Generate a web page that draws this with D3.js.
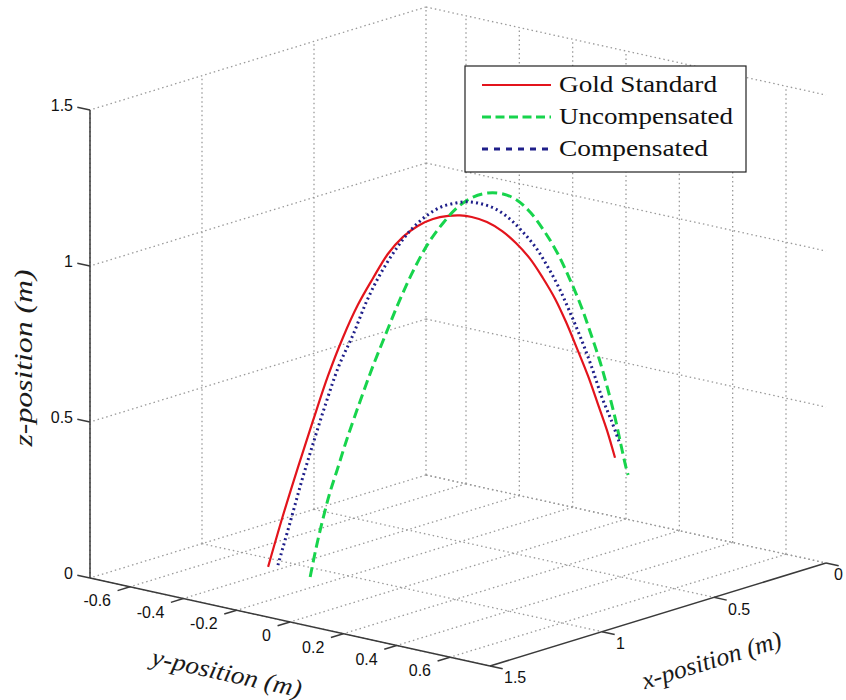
<!DOCTYPE html>
<html>
<head>
<meta charset="utf-8">
<script src="https://cdn.jsdelivr.net/npm/d3@7"></script>
<style>
  body { margin: 0; background: #fff; }
</style>
</head>
<body>
<div class="chart"></div>
<script>
var xTicks = [0, 0.5, 1, 1.5],
    yTicks = [-0.6, -0.4, -0.2, 0, 0.2, 0.4, 0.6],
    zTicks = [0, 0.5, 1, 1.5];
var xLim = [0, 1.5], yLim = [-0.75, 0.75], zLim = [0, 1.5];

var seriesNames = ["Gold Standard", "Uncompensated", "Compensated"];

// gold standard trajectory
var goldX = [1.137, 1.107, 1.076, 1.045, 1.015, 0.984, 0.954, 0.923, 0.893, 0.862, 0.832, 0.801, 0.770, 0.746, 0.722, 0.691, 0.660, 0.632, 0.603, 0.577, 0.552, 0.530, 0.508, 0.485, 0.465, 0.446, 0.430];
var goldY = [-0.387, -0.357, -0.326, -0.295, -0.265, -0.234, -0.204, -0.173, -0.143, -0.112, -0.082, -0.051, -0.020, 0.004, 0.028, 0.059, 0.090, 0.118, 0.147, 0.173, 0.198, 0.220, 0.242, 0.265, 0.285, 0.304, 0.320];
var goldZ = [0.024, 0.186, 0.342, 0.492, 0.632, 0.756, 0.858, 0.943, 1.019, 1.073, 1.107, 1.128, 1.137, 1.138, 1.132, 1.115, 1.085, 1.046, 0.994, 0.932, 0.864, 0.790, 0.706, 0.615, 0.525, 0.438, 0.351];

// uncompensated
var uncompX = [1.160, 1.148, 1.134, 1.120, 1.105, 1.085, 1.058, 1.032, 1.005, 0.979, 0.951, 0.920, 0.889, 0.859, 0.828, 0.798, 0.767, 0.739, 0.710, 0.682, 0.655, 0.631, 0.608, 0.588, 0.569, 0.553, 0.539, 0.527, 0.517, 0.512];
var uncompY = [-0.210, -0.198, -0.184, -0.170, -0.155, -0.135, -0.108, -0.082, -0.055, -0.029, -0.001, 0.030, 0.061, 0.091, 0.122, 0.152, 0.183, 0.211, 0.240, 0.269, 0.295, 0.319, 0.342, 0.362, 0.381, 0.397, 0.411, 0.423, 0.434, 0.438];
var uncompZ = [0.030, 0.122, 0.215, 0.298, 0.371, 0.470, 0.591, 0.702, 0.807, 0.906, 1.001, 1.090, 1.156, 1.206, 1.237, 1.249, 1.245, 1.225, 1.182, 1.120, 1.049, 0.968, 0.881, 0.791, 0.700, 0.610, 0.523, 0.436, 0.362, 0.336];

// compensated
var compX = [1.117, 1.092, 1.068, 1.043, 1.019, 0.993, 0.964, 0.935, 0.907, 0.876, 0.846, 0.815, 0.785, 0.754, 0.728, 0.701, 0.673, 0.644, 0.618, 0.591, 0.567, 0.544, 0.522, 0.499, 0.477, 0.457, 0.438, 0.420];
var compY = [-0.367, -0.342, -0.318, -0.293, -0.269, -0.243, -0.214, -0.185, -0.157, -0.126, -0.096, -0.065, -0.035, -0.004, 0.022, 0.049, 0.077, 0.106, 0.132, 0.159, 0.183, 0.206, 0.228, 0.251, 0.273, 0.293, 0.312, 0.330];
var compZ = [0.029, 0.166, 0.300, 0.428, 0.546, 0.663, 0.762, 0.873, 0.959, 1.035, 1.095, 1.138, 1.166, 1.178, 1.181, 1.173, 1.156, 1.123, 1.081, 1.029, 0.967, 0.899, 0.821, 0.734, 0.641, 0.547, 0.473, 0.395];

var w = 846, h = 700;

var vis = d3.select(".chart").append("svg:svg")
    .attr("width", w)
    .attr("height", h)
    .style("display", "block");

vis.append("rect").attr("width", w).attr("height", h).attr("fill", "#fff");

// each axis mapped to 0..1, then pushed through the view vectors
var xs = d3.scaleLinear().domain(xLim).range([0, 1]),
    ys = d3.scaleLinear().domain(yLim).range([0, 1]),
    zs = d3.scaleLinear().domain(zLim).range([0, 1]);

var origin = [426, 475],      // x=0, y=-0.75, z=0 (back corner)
    ex = [-336, 103],
    ey = [400, 88],
    ez = [0, -468];

function project(p) {
  var a = xs(p[0]), b = ys(p[1]), c = zs(p[2]);
  return [origin[0] + a * ex[0] + b * ey[0] + c * ez[0],
          origin[1] + a * ex[1] + b * ey[1] + c * ez[1]];
}
function unit(v) {
  var l = Math.sqrt(v[0] * v[0] + v[1] * v[1]);
  return [v[0] / l, v[1] / l];
}

var seg = d3.line()
    .x(function(d) { return project(d)[0]; })
    .y(function(d) { return project(d)[1]; });

// grid on the floor and the two back walls
var grid = [];
xTicks.forEach(function(t) {
  grid.push([[t, yLim[0], 0], [t, yLim[1], 0]]);
  grid.push([[t, yLim[0], zLim[0]], [t, yLim[0], zLim[1]]]);
});
yTicks.forEach(function(t) {
  grid.push([[xLim[0], t, 0], [xLim[1], t, 0]]);
  grid.push([[0, t, zLim[0]], [0, t, zLim[1]]]);
});
zTicks.forEach(function(t) {
  grid.push([[0, yLim[0], t], [0, yLim[1], t]]);
  grid.push([[xLim[0], yLim[0], t], [xLim[1], yLim[0], t]]);
});

vis.append("g").selectAll("path").data(grid).enter().append("path")
    .attr("d", seg)
    .attr("fill", "none")
    .attr("stroke", "#9a9a9a")
    .attr("stroke-width", 1.3)
    .attr("stroke-dasharray", "1.5,3");

// trajectories
function zip(X, Y, Z) { return X.map(function(v, i) { return [v, Y[i], Z[i]]; }); }

var series = [
  {name: seriesNames[0], pts: zip(goldX, goldY, goldZ), color: "#e3141c", width: 2.2, dash: null, legDash: null},
  {name: seriesNames[1], pts: zip(uncompX, uncompY, uncompZ), color: "#17d44c", width: 3, dash: "10,5", legDash: "9,4.5"},
  {name: seriesNames[2], pts: zip(compX, compY, compZ), color: "#1f1f8a", width: 3, dash: "2,3.2", legDash: "6,6"}
];

var curve = d3.line()
    .x(function(d) { return project(d)[0]; })
    .y(function(d) { return project(d)[1]; })
    .curve(d3.curveCatmullRom);

vis.append("g").selectAll("path").data(series).enter().append("path")
    .attr("d", function(d) { return curve(d.pts); })
    .attr("fill", "none")
    .attr("stroke", function(d) { return d.color; })
    .attr("stroke-width", function(d) { return d.width; })
    .attr("stroke-dasharray", function(d) { return d.dash; });

// axis lines
var axisCol = "#3a3a3a";
var axes = [
  [[xLim[1], yLim[0], zLim[0]], [xLim[1], yLim[0], zLim[1]]],
  [[xLim[1], yLim[0], 0], [xLim[1], yLim[1], 0]],
  [[xLim[1], yLim[1], 0], [xLim[0], yLim[1], 0]]
];
vis.append("g").selectAll("path").data(axes).enter().append("path")
    .attr("d", seg)
    .attr("fill", "none")
    .attr("stroke", axisCol)
    .attr("stroke-width", 1.5);

var tickLen = 13;
var zDir = unit([-ey[0], -ey[1]]),
    yDir = unit(ex),
    xDir = unit(ey);

function ticks(vals, toPt, dir, dx, dy, anchor, fmt) {
  var g = vis.append("g");
  vals.forEach(function(t) {
    var p = project(toPt(t));
    g.append("line")
        .attr("x1", p[0]).attr("y1", p[1])
        .attr("x2", p[0] + dir[0] * tickLen).attr("y2", p[1] + dir[1] * tickLen)
        .attr("stroke", axisCol).attr("stroke-width", 1.5);
    g.append("text")
        .attr("x", Math.min(p[0] + dx, w - 12)).attr("y", p[1] + dy)
        .attr("text-anchor", anchor)
        .attr("dominant-baseline", "middle")
        .attr("font-family", "Liberation Sans, Arial, sans-serif")
        .attr("font-size", 16)
        .attr("fill", "#111")
        .text(fmt(t));
  });
}
var fmt = function(t) { return String(t); };
ticks(zTicks, function(t) { return [xLim[1], yLim[0], t]; }, zDir, -17, -3, "end", fmt);
ticks(yTicks, function(t) { return [xLim[1], t, 0]; }, yDir, -19, 15, "end", fmt);
ticks(xTicks, function(t) { return [t, yLim[1], 0]; }, xDir, 14, 13, "start", fmt);

// axis titles
function label(txt, x, y, ang, len) {
  vis.append("text")
      .attr("transform", "translate(" + x + "," + y + ") rotate(" + ang + ")")
      .attr("text-anchor", "middle")
      .attr("font-family", "Liberation Serif, Times New Roman, serif")
      .attr("font-style", "italic")
      .attr("font-size", 25)
      .attr("fill", "#1a1a1a")
      .attr("textLength", len)
      .attr("lengthAdjust", "spacingAndGlyphs")
      .text(txt);
}
label("z-position (m)", 32, 358, -90, 177);
label("y-position (m)", 225, 681, Math.atan2(ey[1], ey[0]) * 180 / Math.PI, 153);
label("x-position (m)", 714, 668, Math.atan2(ex[1], -ex[0]) * -180 / Math.PI, 145);

// legend
var leg = vis.append("g");
leg.append("rect")
    .attr("x", 465).attr("y", 66).attr("width", 281).attr("height", 106)
    .attr("fill", "#fff").attr("stroke", "#222").attr("stroke-width", 1.2);
var legLen = [158, 174, 149];
series.forEach(function(s, i) {
  var by = 92 + i * 32;
  leg.append("line")
      .attr("x1", 482).attr("x2", 551)
      .attr("y1", by - 7).attr("y2", by - 7)
      .attr("stroke", s.color)
      .attr("stroke-width", s.width)
      .attr("stroke-dasharray", s.legDash);
  leg.append("text")
      .attr("x", 559).attr("y", by)
      .attr("font-family", "Liberation Serif, Times New Roman, serif")
      .attr("font-size", 23)
      .attr("fill", "#111")
      .attr("textLength", legLen[i])
      .attr("lengthAdjust", "spacingAndGlyphs")
      .text(s.name);
});
</script>
</body>
</html>
